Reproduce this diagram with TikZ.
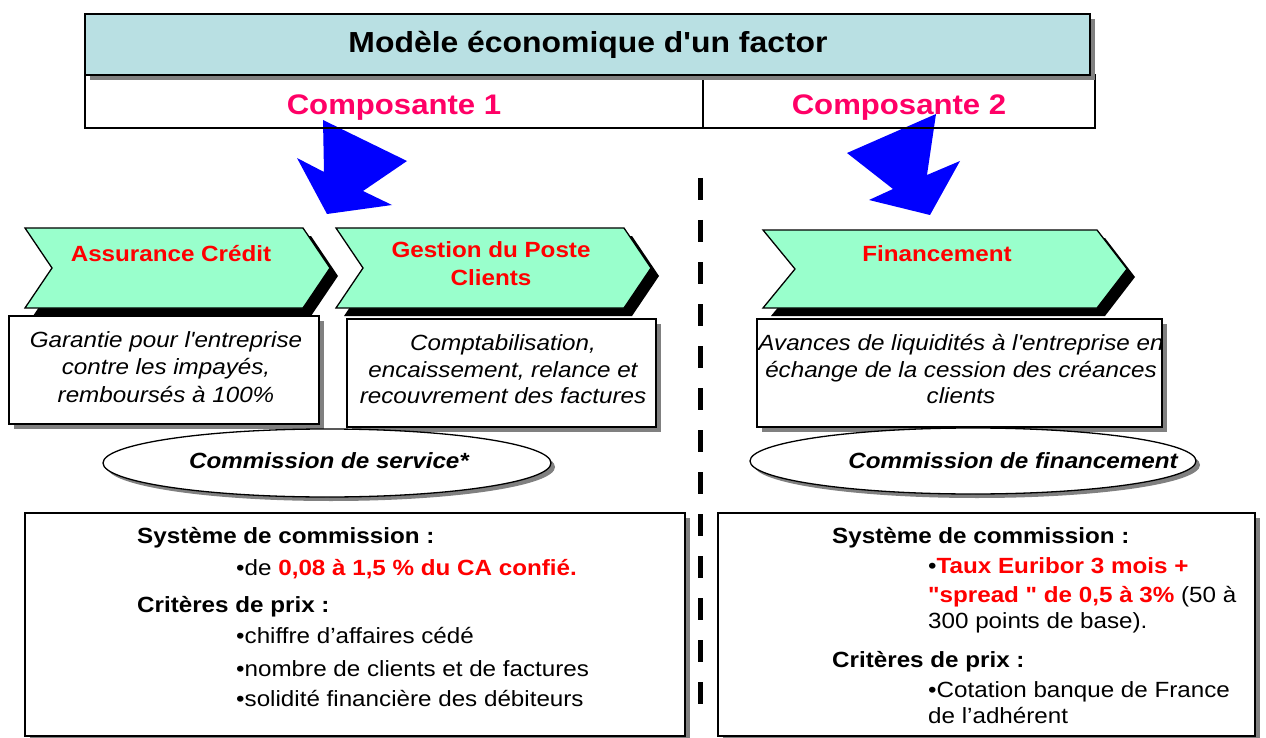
\documentclass[tikz,border=0pt]{standalone}
\usepackage{fontspec}
\newfontfamily\arialf{Liberation Sans}[FakeStretch=1.1]
\definecolor{titlefill}{HTML}{B9E0E3}
\definecolor{chevfill}{HTML}{99FFCC}
\definecolor{pinkred}{HTML}{FF0066}
\definecolor{arrowblue}{HTML}{0000FF}
\definecolor{shadowgray}{HTML}{808080}
\begin{document}
\begin{tikzpicture}[x=1pt,y=-1pt,
  chev/.style={draw=black, line width=1.3, fill=chevfill},
  chevsh/.style={fill=black},
  boxsh/.style={fill=shadowgray},
  plainbox/.style={draw=black, line width=1.3, fill=white},
  bluearrow/.style={fill=arrowblue},
  sepline/.style={line width=5, dash pattern=on 22 off 20},
  basetxt/.style={inner sep=0pt, font=\arialf\fontsize{22}{26}\selectfont},
  ctr/.style={basetxt, anchor=base},
  lft/.style={basetxt, anchor=base west},
  redb/.style={text=red, font=\arialf\fontsize{22}{26}\selectfont\bfseries},
  itx/.style={font=\arialf\fontsize{22}{26}\selectfont\itshape},
  bfx/.style={font=\arialf\fontsize{22}{26}\selectfont\bfseries},
  bix/.style={font=\arialf\fontsize{22}{26}\selectfont\bfseries\itshape}
]
\useasboundingbox (0,0) rectangle (1266,738);
\fill[white] (0,0) rectangle (1266,738);

% blue arrows
\fill[bluearrow] (323,120) -- (407,161) -- (363,191) -- (392,205) -- (327,214) -- (297,158) -- (324,172) -- cycle;
\fill[bluearrow] (936,114) -- (927,175) -- (960,161) -- (930,215) -- (869,200) -- (893,189) -- (847,153) -- cycle;

% composante row
\draw[line width=1.3] (85,75) rectangle (1095,128);
\coordinate (divtop) at (703,75);
\coordinate (divbot) at (703,128);
\draw[line width=1.3] (divtop) -- (divbot);

% title bar
\fill[boxsh] (90,19) rectangle (1095,80);
\draw[fill=titlefill, line width=2] (85,14) rectangle (1090,75);
\node[ctr, font=\arialf\fontsize{29}{33}\selectfont\bfseries] (title) at (588,53) {Modèle économique d'un factor};
\node[ctr, text=pinkred, font=\arialf\fontsize{28.3}{32}\selectfont\bfseries] (comp1) at (394,115) {Composante 1};
\node[ctr, text=pinkred, font=\arialf\fontsize{28.3}{32}\selectfont\bfseries] (comp2) at (899,115) {Composante 2};

% chevrons
\fill[chevsh] (33,236) -- (311,236) -- (338,276) -- (311,316) -- (33,316) -- (60,276) -- cycle;
\draw[chev] (25,228) -- (303,228) -- (330,268) -- (303,308) -- (25,308) -- (52,268) -- cycle;
\fill[chevsh] (344,236) -- (632,236) -- (659,276) -- (632,316) -- (344,316) -- (371,276) -- cycle;
\draw[chev] (336,228) -- (624,228) -- (651,268) -- (624,308) -- (336,308) -- (363,268) -- cycle;
\fill[chevsh] (771,238) -- (1105,238) -- (1135,277) -- (1105,316) -- (771,316) -- (803,277) -- cycle;
\draw[chev] (763,230) -- (1097,230) -- (1127,269) -- (1097,308) -- (763,308) -- (795,269) -- cycle;

\node[ctr, redb] (c1t) at (171,261) {Assurance Crédit};
\node[ctr, redb] (c2t) at (491,257) {Gestion du Poste};
\node[ctr, redb] (c2u) at (491,285) {Clients};
\node[ctr, redb] (c3t) at (937,261) {Financement};

% description boxes
\fill[boxsh] (14,321) rectangle (324,429);
\draw[plainbox] (9,316) rectangle (319,424);
\fill[boxsh] (352,324) rectangle (661,432);
\draw[plainbox] (347,319) rectangle (656,427);
\fill[boxsh] (762,324) rectangle (1167,432);
\draw[plainbox] (757,319) rectangle (1162,427);

\node[ctr, itx] (b1a) at (166,347) {Garantie pour l'entreprise};
\node[ctr, itx] (b1b) at (166,374) {contre les impayés,};
\node[ctr, itx] (b1c) at (166,402) {remboursés à 100\%};
\node[ctr, itx] (b2a) at (503,350) {Comptabilisation,};
\node[ctr, itx] (b2b) at (503,377) {encaissement, relance et};
\node[ctr, itx] (b2c) at (503,403) {recouvrement des factures};
\node[ctr, itx] (b3a) at (961,350) {Avances de liquidités à l'entreprise en};
\node[ctr, itx] (b3b) at (961,377) {échange de la cession des créances};
\node[ctr, itx] (b3c) at (961,403) {clients};

% ellipses
\fill[boxsh] (331,467) ellipse [x radius=224, y radius=34];
\draw[plainbox] (327,463) ellipse [x radius=224, y radius=34];
\fill[boxsh] (977,465) ellipse [x radius=223, y radius=33];
\draw[plainbox] (973,461) ellipse [x radius=223, y radius=33];
\node[ctr, bix] (e1t) at (329,468) {Commission de service*};
\node[ctr, bix] (e2t) at (1013,468) {Commission de financement};

% bottom boxes
\fill[boxsh] (30,518) rectangle (690,741);
\draw[plainbox] (25,513) rectangle (685,736);
\fill[boxsh] (723,518) rectangle (1260,741);
\draw[plainbox] (718,513) rectangle (1255,736);

\node[lft, bfx] (l1) at (137,543) {Système de commission :};
\node[lft] (l2) at (236,575) {•de \textcolor{red}{\bfseries 0,08 à 1,5 \% du CA confié.}};
\node[lft, bfx] (l3) at (137,612) {Critères de prix :};
\node[lft] (l4) at (236,643) {•chiffre d’affaires cédé};
\node[lft] (l5) at (236,676) {•nombre de clients et de factures};
\node[lft] (l6) at (236,706) {•solidité financière des débiteurs};

\node[lft, bfx] (r1) at (832,543) {Système de commission :};
\node[lft] (r2) at (928,573) {•\textcolor{red}{\bfseries Taux Euribor 3 mois +}};
\node[lft] (r3) at (928,602) {\textcolor{red}{\bfseries "spread " de 0,5 à 3\%} (50 à};
\node[lft] (r4) at (928,628) {300 points de base).};
\node[lft, bfx] (r5) at (832,667) {Critères de prix :};
\node[lft] (r6) at (928,697) {•Cotation banque de France};
\node[lft] (r7) at (928,723) {de l’adhérent};

% dashed separator
\coordinate (dtop) at (700,178);
\coordinate (dbot) at (700,705);
\draw[sepline] (dtop) -- (dbot);
\end{tikzpicture}
\end{document}
